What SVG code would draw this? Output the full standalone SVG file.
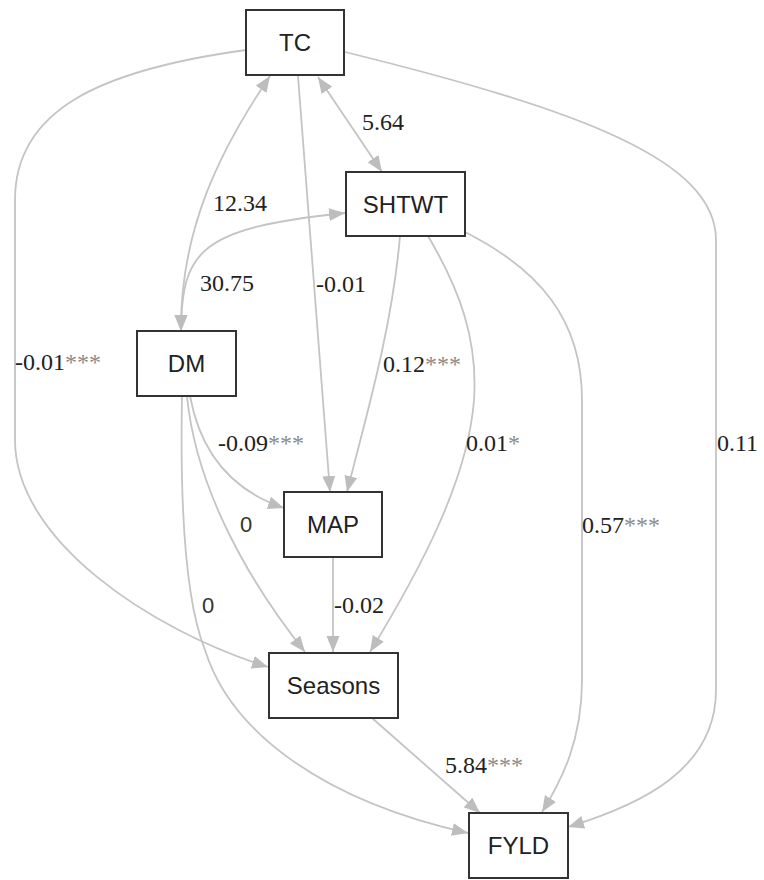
<svg xmlns="http://www.w3.org/2000/svg" width="764" height="880" viewBox="0 0 764 880">
<style>
.node rect{fill:#fff;stroke:#333;stroke-width:2}
.node text{font-family:"Liberation Sans",Arial,sans-serif;font-size:24px;fill:#222;text-anchor:middle}
.edge{fill:none;stroke:#c4c4c4;stroke-width:1.8}
.lbl{font-family:"Liberation Serif","Times New Roman",serif;font-size:24px;fill:#222}
.lbl-s{font-family:"Liberation Sans",Arial,sans-serif;font-size:22px;fill:#333}
.st{fill:#8a8a8a}
</style>
<defs>
<marker id="ah" markerUnits="userSpaceOnUse" markerWidth="17" markerHeight="14" refX="16" refY="6.5" orient="auto-start-reverse">
<path d="M0,0 L16,6.5 L0,13 z" fill="#bdbdbd"/>
</marker>
</defs>
<g id="connectors">
<path class="edge" d="M318,77 L382,172" marker-start="url(#ah)" marker-end="url(#ah)"/>
<path class="edge" d="M270,76 C220,150 180,230 181,331" marker-start="url(#ah)" marker-end="url(#ah)"/>
<path class="edge" d="M181,331 C182,250 200,228 345,213" marker-start="url(#ah)" marker-end="url(#ah)"/>
<path class="edge" d="M298,76 L330,492" marker-end="url(#ah)"/>
<path class="edge" d="M400,236 C392,330 365,420 347,492" marker-end="url(#ah)"/>
<path class="edge" d="M428,236 C460,290 478,340 474,400 C468,480 420,570 370,652" marker-end="url(#ah)"/>
<path class="edge" d="M465,232 C540,270 582,320 582,400 L582,680 C582,740 562,780 542,812" marker-end="url(#ah)"/>
<path class="edge" d="M345,52 C580,110 716,160 716,240 L716,690 C716,770 640,805 568,827" marker-end="url(#ah)"/>
<path class="edge" d="M246,50 C100,70 15,110 15,200 L15,440 C15,540 150,630 268,667" marker-end="url(#ah)"/>
<path class="edge" d="M190,396 C200,450 230,490 284,508" marker-end="url(#ah)"/>
<path class="edge" d="M187,396 C195,480 240,570 305,652" marker-end="url(#ah)"/>
<path class="edge" d="M182,396 C180,500 185,600 205,650 C230,730 320,800 468,833" marker-end="url(#ah)"/>
<path class="edge" d="M333,557 L333,652" marker-end="url(#ah)"/>
<path class="edge" d="M372,718 L480,813" marker-end="url(#ah)"/>
</g>
<g id="labels">
<text class="lbl" x="362" y="130">5.64</text>
<text class="lbl" x="213" y="211">12.34</text>
<text class="lbl" x="200" y="291">30.75</text>
<text class="lbl" x="316" y="292">-0.01</text>
<text class="lbl" x="15" y="370">-0.01<tspan class="st">***</tspan></text>
<text class="lbl" x="383" y="372">0.12<tspan class="st">***</tspan></text>
<text class="lbl" x="466" y="451">0.01<tspan class="st">*</tspan></text>
<text class="lbl" x="717" y="451">0.11</text>
<text class="lbl" x="582" y="533">0.57<tspan class="st">***</tspan></text>
<text class="lbl" x="218" y="451">-0.09<tspan class="st">***</tspan></text>
<text class="lbl-s" x="240" y="532">0</text>
<text class="lbl-s" x="202" y="613">0</text>
<text class="lbl" x="334" y="613">-0.02</text>
<text class="lbl" x="445" y="773">5.84<tspan class="st">***</tspan></text>
</g>
<g id="TC" class="node"><rect x="246" y="10" width="98" height="65"/><text x="295" y="51">TC</text></g>
<g id="SHTWT" class="node"><rect x="346" y="172" width="119" height="64"/><text x="405.5" y="212.5">SHTWT</text></g>
<g id="DM" class="node"><rect x="137" y="331" width="99" height="65"/><text x="186.5" y="372">DM</text></g>
<g id="MAP" class="node"><rect x="284" y="492" width="98" height="65"/><text x="333" y="533">MAP</text></g>
<g id="Seasons" class="node"><rect x="269" y="653" width="129" height="65"/><text x="333.5" y="694">Seasons</text></g>
<g id="FYLD" class="node"><rect x="469" y="813" width="99" height="65"/><text x="518.5" y="854">FYLD</text></g>
</svg>
